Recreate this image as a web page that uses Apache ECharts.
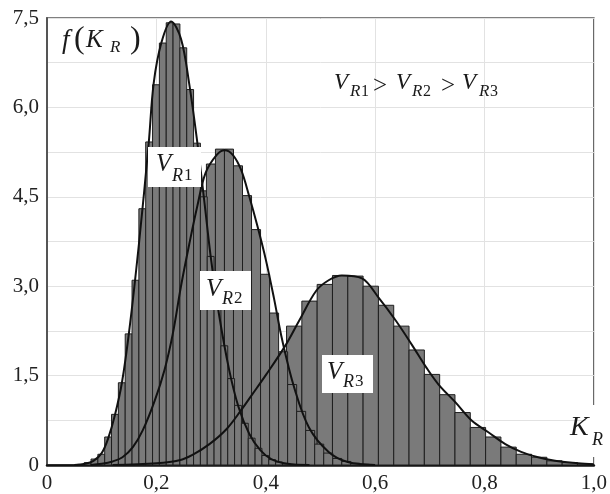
<!DOCTYPE html>
<html>
<head>
<meta charset="utf-8">
<script src="https://cdn.jsdelivr.net/npm/echarts@6/dist/echarts.min.js"></script>
<style>
html, body { margin: 0; padding: 0; background: #fff; }
#chart { width: 610px; height: 494px; }
</style>
</head>
<body>
<div id="chart"></div>
<script>
// histogram V_R1: first bin left edge, bin width, bar heights
var r1Start = 0.0555, r1Width = 0.0125;
var r1Heights = [0.01, 0.04, 0.1, 0.18, 0.47, 0.85, 1.38, 2.2, 3.1, 4.3, 5.42, 6.38, 7.08, 7.42, 7.4, 7.0,
    6.3, 5.4, 4.5, 3.5, 2.65, 2.0, 1.45, 1.0, 0.7, 0.45, 0.28, 0.16, 0.09, 0.05, 0.02];
// histogram V_R2
var r2Start = 0.077, r2Width = 0.0165;
var r2Heights = [0.01, 0.03, 0.07, 0.14, 0.25, 0.4, 0.65, 1.1, 1.6, 2.3, 3.1, 3.95, 4.6, 5.05, 5.3, 5.3,
    5.02, 4.52, 3.95, 3.2, 2.55, 1.9, 1.35, 0.9, 0.58, 0.35, 0.2, 0.11, 0.06, 0.03, 0.01];
// histogram V_R3
var r3Start = 0.102, r3Width = 0.028;
var r3Heights = [0.005, 0.01, 0.02, 0.04, 0.07, 0.12, 0.22, 0.38, 0.63, 0.97, 1.38, 1.85, 2.33, 2.75, 3.03, 3.18,
    3.17, 3.0, 2.68, 2.33, 1.93, 1.52, 1.18, 0.88, 0.63, 0.47, 0.3, 0.18, 0.13, 0.07, 0.04, 0.02];

// density curves [K_R, f]
var r1Curve = [[0.05, 0], [0.07, 0.02], [0.085, 0.07], [0.1, 0.2], [0.112, 0.45], [0.124, 0.83], [0.137, 1.38],
    [0.151, 2.3], [0.168, 3.7], [0.186, 5.4], [0.195, 6.4], [0.209, 7.08], [0.227, 7.44], [0.245, 7.15],
    [0.26, 6.4], [0.275, 5.4], [0.288, 4.4], [0.3, 3.45], [0.315, 2.5], [0.333, 1.6], [0.35, 0.98],
    [0.37, 0.52], [0.39, 0.25], [0.41, 0.1], [0.44, 0.02], [0.48, 0]];
var r2Curve = [[0.08, 0], [0.1, 0.02], [0.12, 0.06], [0.138, 0.13], [0.157, 0.3], [0.175, 0.58], [0.197, 1.08],
    [0.215, 1.6], [0.23, 2.2], [0.245, 3.0], [0.26, 3.7], [0.275, 4.35], [0.29, 4.9], [0.31, 5.2], [0.325, 5.28],
    [0.34, 5.2], [0.355, 4.95], [0.37, 4.5], [0.385, 4.0], [0.4, 3.45], [0.415, 2.8], [0.43, 2.1], [0.452, 1.3],
    [0.479, 0.63], [0.515, 0.22], [0.55, 0.05], [0.6, 0]];
var r3Curve = [[0.12, 0], [0.2, 0.03], [0.242, 0.08], [0.266, 0.17], [0.297, 0.35], [0.328, 0.6], [0.355, 0.92],
    [0.375, 1.18], [0.401, 1.52], [0.437, 2.02], [0.461, 2.42], [0.492, 2.92], [0.515, 3.1], [0.539, 3.18],
    [0.576, 3.13], [0.607, 2.8], [0.638, 2.42], [0.667, 2.02], [0.694, 1.63], [0.716, 1.35], [0.747, 1.05],
    [0.776, 0.75], [0.807, 0.55], [0.838, 0.35], [0.867, 0.22], [0.898, 0.13], [0.929, 0.07], [0.971, 0.03],
    [1.0, 0.01]];

var serif = '"Liberation Serif", "DejaVu Serif", serif';

function histSeries(start, width, heights) {
    var data = heights.map(function (h, i) {
        return [start + i * width, start + (i + 1) * width, h];
    });
    return {
        type: 'custom',
        z: 2,
        silent: true,
        encode: { x: [0, 1], y: 2 },
        renderItem: function (params, api) {
            var p0 = api.coord([api.value(0), api.value(2)]);
            var p1 = api.coord([api.value(1), 0]);
            return {
                type: 'rect',
                shape: { x: p0[0], y: p0[1], width: p1[0] - p0[0], height: p1[1] - p0[1] },
                style: { fill: '#7a7a7a', stroke: '#1e1e1e', lineWidth: 1 }
            };
        },
        data: data
    };
}

function curveSeries(points) {
    return {
        type: 'line',
        z: 3,
        smooth: 0.35,
        showSymbol: false,
        silent: true,
        lineStyle: { color: '#111', width: 2 },
        data: points
    };
}

// text piece for the annotations
function txt(x, y, s, size, italic) {
    return {
        type: 'text', x: x, y: y, z: 101,
        style: {
            text: s,
            font: (italic ? 'italic ' : '') + size + 'px ' + serif,
            fill: '#1a1a1a',
            verticalAlign: 'middle'
        }
    };
}

function box(x, y, w, h) {
    return { type: 'rect', z: 100, shape: { x: x, y: y, width: w, height: h }, style: { fill: '#fff' } };
}

function fmt(v) {
    return v === 0 ? '0' : v.toFixed(1).replace('.', ',');
}

var myChart = echarts.init(document.getElementById('chart'));
var option = {
    animation: false,
    backgroundColor: '#fff',
    grid: {
        left: 47, right: 14, top: 18, bottom: 26,
        show: true, borderColor: '#555', borderWidth: 1.5
    },
    xAxis: {
        type: 'value',
        min: 0, max: 1, interval: 0.2,
        axisLine: { show: true, onZero: false, lineStyle: { color: '#111', width: 2.5 } },
        axisTick: { show: false },
        splitLine: { show: true, lineStyle: { color: '#e2e2e2', width: 1 } },
        axisLabel: {
            margin: 8,
            color: '#222',
            fontFamily: serif,
            fontSize: 21,
            formatter: fmt
        }
    },
    yAxis: {
        type: 'value',
        min: 0, max: 7.5, interval: 0.75,
        axisLine: { show: true, lineStyle: { color: '#555', width: 2 } },
        axisTick: { show: false },
        splitLine: { show: true, lineStyle: { color: '#e2e2e2', width: 1 } },
        axisLabel: {
            margin: 8,
            color: '#222',
            fontFamily: serif,
            fontSize: 21,
            formatter: function (v) {
                var k = v / 1.5;
                if (Math.abs(k - Math.round(k)) > 1e-6) return '';
                return fmt(v);
            }
        }
    },
    series: [
        histSeries(r3Start, r3Width, r3Heights),
        histSeries(r2Start, r2Width, r2Heights),
        histSeries(r1Start, r1Width, r1Heights),
        curveSeries(r3Curve),
        curveSeries(r2Curve),
        curveSeries(r1Curve)
    ],
    graphic: [
        // f(K_R)
        txt(62, 41, 'f', 27, true),
        txt(74, 40, '(', 32, false),
        txt(86, 40, 'K', 25, true),
        txt(110, 48, 'R', 17, true),
        txt(130, 40, ')', 32, false),
        // V_R1 > V_R2 > V_R3
        txt(334, 83, 'V', 23, true),
        txt(350, 92, 'R', 17, true),
        txt(361, 92, '1', 16, false),
        txt(373, 86, '>', 25, false),
        txt(396, 83, 'V', 23, true),
        txt(412, 92, 'R', 17, true),
        txt(423, 92, '2', 16, false),
        txt(441, 86, '>', 25, false),
        txt(462, 83, 'V', 23, true),
        txt(479, 92, 'R', 17, true),
        txt(490, 92, '3', 16, false),
        // series labels
        box(148, 147, 53, 40),
        txt(156, 164, 'V', 25, true),
        txt(172, 176, 'R', 18, true),
        txt(184, 176, '1', 17, false),
        box(200, 271, 51, 39),
        txt(206, 289, 'V', 25, true),
        txt(222, 299, 'R', 18, true),
        txt(234, 299, '2', 17, false),
        box(322, 355, 51, 38),
        txt(327, 372, 'V', 25, true),
        txt(343, 382, 'R', 18, true),
        txt(355, 382, '3', 17, false),
        // axis name
        box(586, 405, 20, 52),
        txt(570, 428, 'K', 28, true),
        txt(592, 440, 'R', 18, true)
    ]
};
myChart.setOption(option);
window.addEventListener('resize', function () {
    myChart.resize();
});
</script>
</body>
</html>
